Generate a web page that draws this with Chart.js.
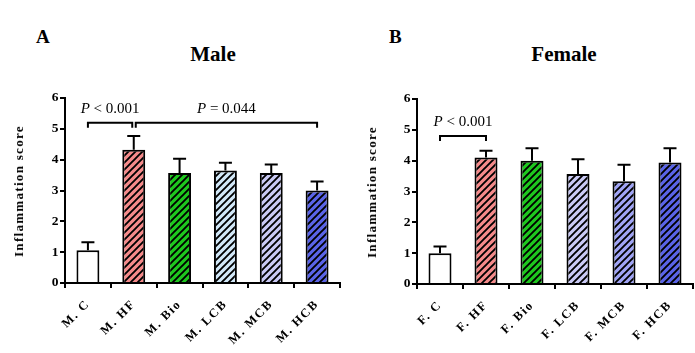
<!DOCTYPE html>
<html>
<head>
<meta charset="utf-8">
<script src="https://cdn.jsdelivr.net/npm/chart.js@4.4.1/dist/chart.umd.min.js"></script>
<style>
  body { margin: 0; background: #fff; width: 695px; height: 353px; position: relative; overflow: hidden; font-family: "Liberation Serif", serif; }
  .panel { position: absolute; top: 0; height: 353px; }
  .lbl { position: absolute; font-weight: bold; font-size: 19px; }
  .ttl { position: absolute; font-weight: bold; font-size: 21px; transform: translateX(-50%); }
  .ytl { position: absolute; font-weight: bold; font-size: 13px; letter-spacing: 1.3px; white-space: nowrap;
         transform: translate(-50%, -50%) rotate(-90deg); }
</style>
</head>
<body>
<div class="lbl" style="left:36px;top:26px">A</div>
<div class="ttl" style="left:213px;top:42px">Male</div>
<div class="lbl" style="left:389px;top:26px">B</div>
<div class="ttl" style="left:564px;top:42px">Female</div>
<div class="panel" style="left:0;width:347px"><canvas id="maleChart"></canvas></div>
<div class="panel" style="left:352px;width:343px"><canvas id="femaleChart"></canvas></div>
<div class="ytl" style="left:19px;top:191px">Inflammation score</div>
<div class="ytl" style="left:372px;top:192px">Inflammation score</div>
<script>
const maleLabels = ["M. C", "M. HF", "M. Bio", "M. LCB", "M. MCB", "M. HCB"];
const maleMeans = [1.06, 4.32, 3.57, 3.65, 3.57, 3.0];
const maleErrTop = [1.32, 4.77, 4.03, 3.9, 3.84, 3.29];
const maleColors = ['#ffffff', '#f58a8a', '#1ec81e', '#d2e8f8', '#cacaf5', '#5a64e8'];
const maleBrackets = [[0, 1, 5.2, '< 0.001'], [1, 5, 5.2, '= 0.044']];

const femaleLabels = ["F. C", "F. HF", "F. Bio", "F. LCB", "F. MCB", "F. HCB"];
const femaleMeans = [1.0, 4.1, 4.0, 3.57, 3.33, 3.94];
const femaleErrTop = [1.22, 4.32, 4.4, 4.05, 3.87, 4.4];
const femaleColors = ['#ffffff', '#f58a8a', '#1ec81e', '#cacaf5', '#a0a4f5', '#5a64e8'];
const femaleBrackets = [[0, 1, 4.8, '< 0.001']];

const yTicks = [0, 1, 2, 3, 4, 5, 6];

function hatch(color) {
    if (color === '#ffffff') return color;
    const c = document.createElement('canvas');
    c.width = 7; c.height = 7;
    const g = c.getContext('2d');
    g.fillStyle = color;
    g.fillRect(0, 0, 7, 7);
    g.strokeStyle = '#000';
    g.lineWidth = 1.9;
    g.beginPath();
    for (let k = -7; k <= 14; k += 7) {
        g.moveTo(k - 1, 8);
        g.lineTo(k + 8, -1);
    }
    g.stroke();
    return g.createPattern(c, 'repeat');
}

// wider letter spacing for the axis labels, reset before bars and annotations
const spacing = {
    id: 'spacing',
    beforeDraw(chart) { chart.ctx.letterSpacing = '1.6px'; },
    beforeDatasetsDraw(chart) { chart.ctx.letterSpacing = '0px'; }
};

const extras = {
    id: 'extras',
    afterDatasetsDraw(chart, args, opts) {
        const g = chart.ctx, x = chart.scales.x, y = chart.scales.y;
        g.save();
        g.letterSpacing = '0px';
        g.strokeStyle = '#000';
        g.lineWidth = 2;
        // upper error bars
        opts.means.forEach((m, i) => {
            const cx = x.getPixelForValue(i);
            const y0 = y.getPixelForValue(m), y1 = y.getPixelForValue(opts.err[i]);
            g.beginPath();
            g.moveTo(cx, y0); g.lineTo(cx, y1);
            g.moveTo(cx - 6.5, y1); g.lineTo(cx + 6.5, y1);
            g.stroke();
        });
        // significance brackets
        opts.brackets.forEach(([a, b, v, txt], k) => {
            let xa = x.getPixelForValue(a), xb = x.getPixelForValue(b);
            if (k > 0) xa += 2; else if (opts.brackets.length > 1) xb -= 1.5;
            const yy = y.getPixelForValue(v);
            g.beginPath();
            g.moveTo(xa, yy + 5); g.lineTo(xa, yy); g.lineTo(xb, yy); g.lineTo(xb, yy + 5);
            g.stroke();
            const mid = (xa + xb) / 2;
            g.fillStyle = '#000';
            g.textBaseline = 'alphabetic';
            g.font = 'italic 15px "Liberation Serif"';
            const wp = g.measureText('P ').width;
            g.font = '15px "Liberation Serif"';
            const wt = g.measureText(txt).width;
            const sx = mid - (wp + wt) / 2;
            g.font = 'italic 15px "Liberation Serif"';
            g.fillText('P', sx, yy - 10);
            g.font = '15px "Liberation Serif"';
            g.fillText(txt, sx + wp, yy - 10);
        });
        g.restore();
    }
};

function makeChart(id, labels, means, err, colors, brackets, box) {
    return new Chart(document.getElementById(id), {
        type: 'bar',
        data: {
            labels: labels,
            datasets: [{
                data: means,
                backgroundColor: colors.map(hatch),
                borderColor: '#000',
                borderWidth: 2,
                borderSkipped: 'bottom',
                barPercentage: 0.5,
                categoryPercentage: 1
            }]
        },
        options: {
            responsive: true,
            maintainAspectRatio: false,
            animation: false,
            events: [],
            layout: { padding: { top: box.top, right: box.right, left: 4, bottom: 0 } },
            plugins: {
                legend: { display: false },
                tooltip: { enabled: false },
                extras: { means: means, err: err, brackets: brackets }
            },
            scales: {
                x: {
                    afterFit: s => { s.height = box.xh; },
                    border: { display: true, color: '#000', width: 2 },
                    grid: { display: true, drawOnChartArea: false, drawTicks: true, tickLength: 5, color: '#000', lineWidth: 2 },
                    ticks: {
                        color: '#000', maxRotation: 45, minRotation: 45, padding: 9,
                        font: { family: '"Liberation Serif"', weight: 'bold', size: 12.5 }
                    }
                },
                y: {
                    min: 0, max: 6,
                    afterFit: s => { s.width = box.yw; },
                    afterBuildTicks: s => { s.ticks = yTicks.map(v => ({ value: v })); },
                    border: { display: true, color: '#000', width: 2 },
                    grid: { display: true, drawOnChartArea: false, drawTicks: true, tickLength: 5, color: '#000', lineWidth: 2 },
                    ticks: {
                        color: '#000', padding: 0,
                        font: { family: '"Liberation Serif"', weight: 'bold', size: 13.5 }
                    }
                }
            }
        },
        plugins: [spacing, extras]
    });
}

makeChart('maleChart', maleLabels, maleMeans, maleErrTop, maleColors, maleBrackets,
    { top: 98, right: 7, xh: 70, yw: 61 });
makeChart('femaleChart', femaleLabels, femaleMeans, femaleErrTop, femaleColors, femaleBrackets,
    { top: 99, right: 2, xh: 69, yw: 61 });
</script>
</body>
</html>
